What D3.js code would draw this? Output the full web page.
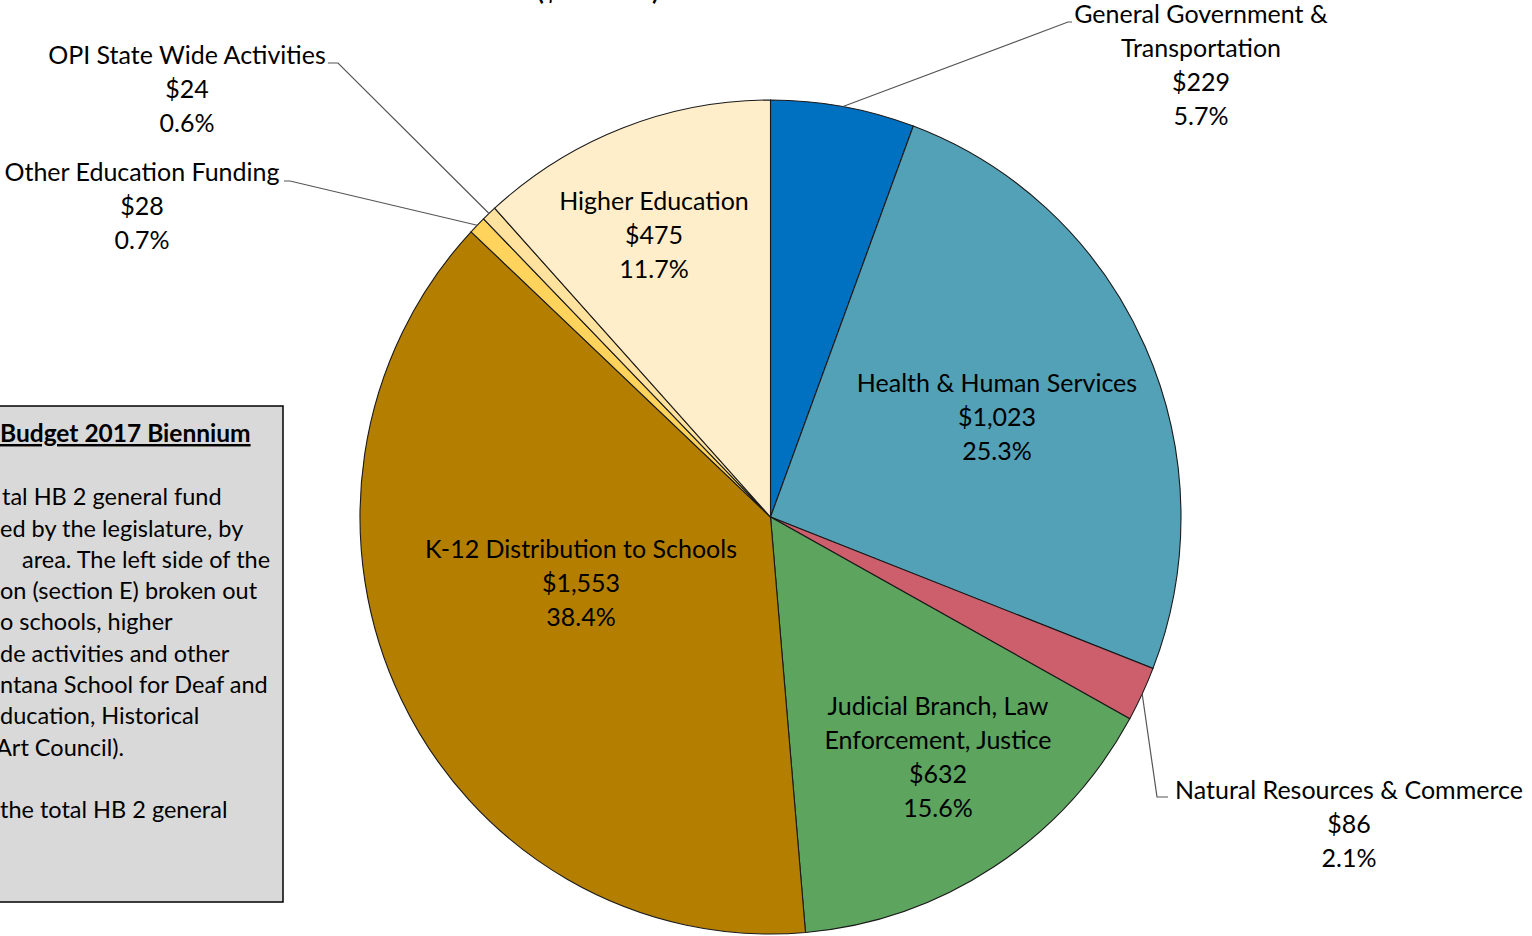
<!DOCTYPE html>
<html>
<head>
<meta charset="utf-8">
<script src="https://cdn.jsdelivr.net/npm/d3@7"></script>
<style>
  html, body { margin: 0; padding: 0; background: #fff; overflow: hidden; }
  svg { display: block; font-family: Lato, "Open Sans", sans-serif; }
</style>
</head>
<body>
<svg id="chart"></svg>
<script>
const width = 1532;
const height = 936;

// --- data ---
const categories = [
  "General Government & Transportation",
  "Health & Human Services",
  "Natural Resources & Commerce",
  "Judicial Branch, Law Enforcement, Justice",
  "K-12 Distribution to Schools",
  "Other Education Funding",
  "OPI State Wide Activities",
  "Higher Education"
];
const values = [229, 1023, 86, 632, 1553, 28, 24, 475];
const valueLabels = ["$229", "$1,023", "$86", "$632", "$1,553", "$28", "$24", "$475"];
const percentLabels = ["5.7%", "25.3%", "2.1%", "15.6%", "38.4%", "0.7%", "0.6%", "11.7%"];
const colors = ["#0070C0", "#53A1B7", "#CD5F6D", "#5DA45F", "#B47F00", "#FFD35C", "#FFE29D", "#FFEEC9"];

// label layout: name lines, centre x, first line y, and (for outside labels) leader elbow
const labelLayout = [
  { lines: ["General Government &", "Transportation"], x: 1201, y: 14, elbow: [1068, 22], end: [1072, 22] },
  { lines: ["Health & Human Services"], x: 997, y: 383 },
  { lines: ["Natural Resources & Commerce"], x: 1349, y: 790, elbow: [1157, 797], end: [1168, 797] },
  { lines: ["Judicial Branch, Law", "Enforcement, Justice"], x: 938, y: 706 },
  { lines: ["K-12 Distribution to Schools"], x: 581, y: 549 },
  { lines: ["Other Education Funding"], x: 142, y: 172, elbow: [290, 181], end: [284, 181] },
  { lines: ["OPI State Wide Activities"], x: 187, y: 55, elbow: [338, 63], end: [328, 63] },
  { lines: ["Higher Education"], x: 654, y: 201 }
];

const boxTitle = "Budget 2017 Biennium";
const boxLines = [
  { t: "tal HB 2 general fund", dx: 2 },
  { t: "ed by the legislature, by", dx: 0 },
  { t: "area.  The left side of the", dx: 22 },
  { t: "on (section E) broken out", dx: 0 },
  { t: "o schools, higher", dx: 0 },
  { t: "de activities and other", dx: 0 },
  { t: "ntana School for Deaf and", dx: 0 },
  { t: "ducation, Historical", dx: 0 },
  { t: "Art Council).", dx: -4 },
  { t: "", dx: 0 },
  { t: "the total HB 2 general", dx: 0 }
];

const svg = d3.select("#chart")
  .attr("width", width)
  .attr("height", height);

// --- pie ---
const cx = 770.5, cy = 517;
const rx = 410.5, ry = 417;

const pie = d3.pie().sort(null).value(d => d)(values);
const arc = d3.arc().innerRadius(0).outerRadius(rx);

const pieG = svg.append("g")
  .attr("transform", `translate(${cx},${cy}) scale(1,${ry / rx})`);

pieG.selectAll("path")
  .data(pie)
  .join("path")
  .attr("d", arc)
  .attr("fill", (d, i) => colors[i])
  .attr("stroke", "#1a1a1a")
  .attr("stroke-width", 1.1)
  .attr("vector-effect", "non-scaling-stroke");

// --- leader lines ---
function edgePoint(d) {
  const a = (d.startAngle + d.endAngle) / 2;
  return [cx + rx * Math.sin(a), cy - ry * Math.cos(a)];
}

pie.forEach((d, i) => {
  const L = labelLayout[i];
  if (!L.elbow) return;
  const p = edgePoint(d);
  svg.append("polyline")
    .attr("points", [p, L.elbow, L.end].map(q => q.join(",")).join(" "))
    .attr("fill", "none")
    .attr("stroke", "#555")
    .attr("stroke-width", 1.2);
});

// --- labels ---
const lineH = 34;
labelLayout.forEach((L, i) => {
  const rows = [...L.lines, valueLabels[i], percentLabels[i]];
  const t = svg.append("text")
    .attr("text-anchor", "middle")
    .attr("font-size", 25)
    .attr("fill", "#000");
  rows.forEach((r, j) => {
    t.append("tspan")
      .attr("x", L.x)
      .attr("y", L.y + j * lineH)
      .attr("dy", "0.35em")
      .text(r);
  });
});

// --- top subtitle (cut off at the top) ---
svg.append("text")
  .attr("x", 598)
  .attr("y", 0)
  .attr("text-anchor", "middle")
  .attr("font-size", 25)
  .attr("font-weight", "bold")
  .text("($ Millions)");

// --- text box on the left (partly cut off) ---
const box = svg.append("g");
box.append("rect")
  .attr("x", -5)
  .attr("y", 406)
  .attr("width", 288)
  .attr("height", 496)
  .attr("fill", "#D9D9D9")
  .attr("stroke", "#000")
  .attr("stroke-width", 1.5);

box.append("text")
  .attr("x", 0)
  .attr("y", 442)
  .attr("font-size", 24.5)
  .attr("font-weight", "bold")
  .attr("text-decoration", "underline")
  .text(boxTitle);

boxLines.forEach((l, i) => {
  box.append("text")
    .attr("x", l.dx)
    .attr("y", 497 + i * 31.3)
    .attr("dy", "0.35em")
    .attr("font-size", 23.5)
    .attr("fill", "#000")
    .text(l.t);
});
</script>
</body>
</html>
